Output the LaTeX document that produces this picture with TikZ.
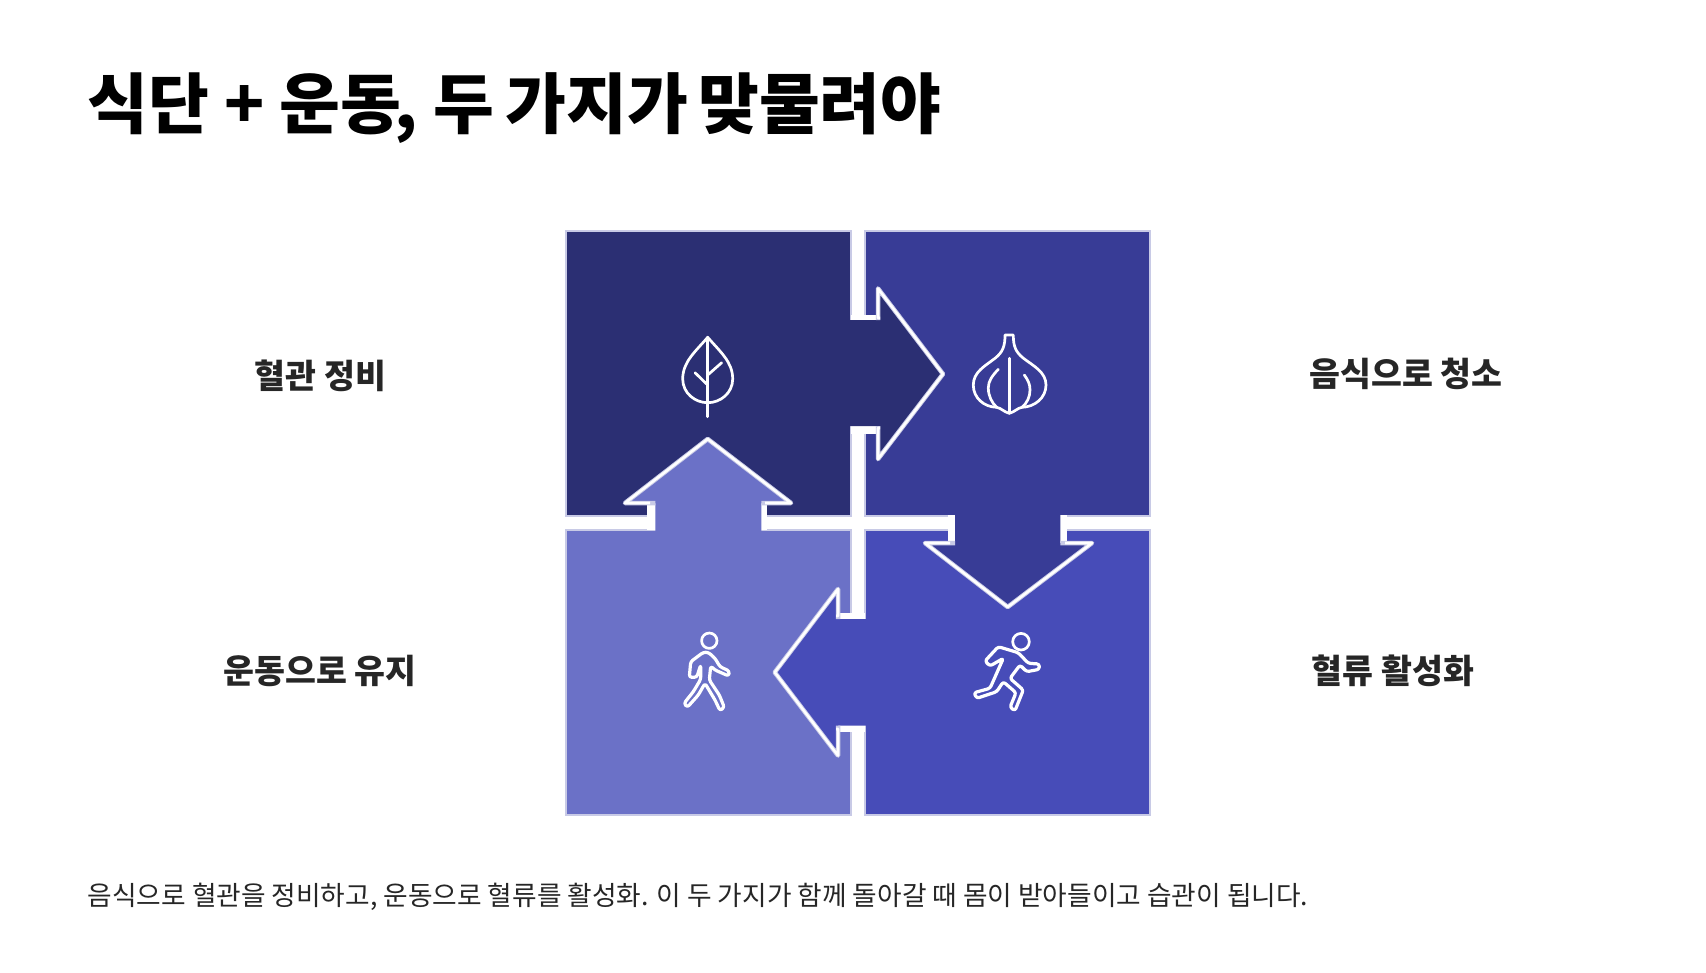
\documentclass[tikz,border=0pt]{standalone}
\usepackage{fontspec}
\newfontfamily\cjk{Noto Sans CJK KR}
\usetikzlibrary{positioning}
\definecolor{tileTL}{RGB}{43,47,115}
\definecolor{tileTR}{RGB}{56,60,150}
\definecolor{tileBR}{RGB}{71,76,184}
\definecolor{tileBL}{RGB}{107,113,199}
\definecolor{rim}{RGB}{200,202,230}
\definecolor{ink}{RGB}{38,38,38}
\tikzset{
  tile/.style={draw=rim, line width=0.015cm},
  rimline/.style={draw=rim, line width=0.045cm, line join=round},
  whiteline/.style={draw=white, line width=0.026cm, line join=round},
  icon/.style={draw=white, line width=0.027cm, line cap=round, line join=round},
  body/.style={icon, line width=0.032cm, rounded corners=0.025cm},
  heading/.style={anchor=west, inner sep=0pt, text=black, font=\cjk\bfseries\fontsize{18.8pt}{22pt}\selectfont},
  tag/.style={anchor=west, inner sep=0pt, text=ink, font=\cjk\bfseries\fontsize{9.55pt}{12pt}\selectfont},
  note/.style={anchor=west, inner sep=0pt, text=ink, font=\cjk\fontsize{7.6pt}{10pt}\selectfont},
}

\begin{document}
\begin{tikzpicture}[x=0.01cm, y=-0.01cm]
\useasboundingbox (0,0) rectangle (1706,972);
\fill[white] (0,0) rectangle (1706,972);

%% ─── Four tiles ─────────────────────────────────────────────
\foreach \cx/\cy/\col in {566/231/tileTL, 865/231/tileTR, 566/530/tileBL, 865/530/tileBR} {
  \fill[\col, tile] (\cx,\cy) rectangle (\cx+285,\cy+285);
}

%% ─── Arrows: white notch, stem and head, then the edge ──────
% right arrow
\fill[white] (851,315) rectangle (880,434);
\fill[tileTL] (849,320) -- (878,320) -- (878,288.5) -- (943,374) -- (878,459) -- (878,426) -- (849,426) -- cycle;
\draw[rimline] (878,320) -- (878,288.5) -- (943,374) -- (878,459) -- (878,426);
\draw[whiteline] (880,318) -- (878,318) -- (878,288.5) -- (943,374) -- (878,459) -- (878,428) -- (880,428);
% down arrow
\fill[white] (948,515) rectangle (1067,545);
\fill[tileTR] (955,513) -- (955,543) -- (925,543) -- (1007.7,607) -- (1092,543) -- (1060.3,543) -- (1060.3,513) -- cycle;
\draw[rimline] (955,543) -- (925,543) -- (1007.7,607) -- (1092,543) -- (1060.3,543);
\draw[whiteline] (950,543) -- (925,543) -- (1007.7,607) -- (1092,543) -- (1065,543);
% left arrow
\fill[white] (836,613.3) rectangle (865,731.7);
\fill[tileBR] (867,619) -- (838,619) -- (838,589) -- (774.7,672.3) -- (838,755.5) -- (838,725.7) -- (867,725.7) -- cycle;
\draw[rimline] (838,619) -- (838,589) -- (774.7,672.3) -- (838,755.5) -- (838,725.7);
\draw[whiteline] (836,616) -- (838,616) -- (838,589) -- (774.7,672.3) -- (838,755.5) -- (838,729) -- (836,729);
% up arrow
\fill[white] (647.3,501) rectangle (766.7,530);
\fill[tileBL] (655.3,532) -- (655.3,503) -- (625,503) -- (707.7,439) -- (791,503) -- (761.3,503) -- (761.3,532) -- cycle;
\draw[rimline] (655.3,503) -- (625,503) -- (707.7,439) -- (791,503) -- (761.3,503);
\draw[whiteline] (650,503) -- (625,503) -- (707.7,439) -- (791,503) -- (765,503);

%% ─── Leaf icon ──────────────────────────────────────────────
\draw[icon] (707.7,337.3) .. controls (695,352) and (682.7,362) .. (682.7,379)
  .. controls (682.7,393) and (695,402.7) .. (707.7,402.7)
  .. controls (720.4,402.7) and (732.7,393) .. (732.7,379)
  .. controls (732.7,362) and (720.4,352) .. cycle;
\draw[icon] (707.7,337.3) -- (707.7,416.7);
\draw[icon] (707.7,375) -- (721.7,362.7);
\draw[icon] (707.7,385) -- (695,372.7);

%% ─── Garlic icon ────────────────────────────────────────────
\draw[icon] (1009.3,413.3) .. controls (1004,412) and (1001,408) .. (996.7,407.3)
  .. controls (984,407) and (973.3,398) .. (973.3,385)
  .. controls (973.3,372) and (985,366) .. (995,358.3)
  .. controls (1003,352) and (1005,346) .. (1005,335)
  -- (1013.3,335)
  .. controls (1013.3,346) and (1015.5,352) .. (1023.5,358.3)
  .. controls (1033.5,366) and (1046,372) .. (1046,385)
  .. controls (1046,398) and (1034.5,407) .. (1022,407.3)
  .. controls (1017.5,408) and (1014.5,412) .. cycle;
\draw[icon] (1009.3,358.3) -- (1009.3,413.3);
\draw[icon] (998.3,369.3) .. controls (992,376) and (988.3,381) .. (988.3,388)
  .. controls (988.3,396) and (992,403) .. (996.7,407.3);
\draw[icon] (1024.3,375) .. controls (1028,380) and (1030,384) .. (1030,390)
  .. controls (1030,397) and (1027,403) .. (1022,407.3);

%% ─── Walker icon ────────────────────────────────────────────
\draw[icon] (709.3,640.7) circle[radius=7.7];
\draw[body] (708.3,652.3) -- (715,658.3) -- (720,666.7) -- (729.3,671) -- (728.7,676)
  -- (715,670) -- (710.7,666) -- (709.3,680) -- (719.3,695) -- (724.3,707.3)
  -- (720,710.7) -- (715,700) -- (705,683.3) -- (698.3,695) -- (687.3,707.3)
  -- (684,703.3) -- (693.3,691.7) -- (700.7,679.3) -- (700.7,665) -- (696.7,677.3)
  -- (689.3,677.3) -- (690.7,661.7) -- (703.3,652.3) -- cycle;

%% ─── Runner icon ────────────────────────────────────────────
\draw[icon] (1021,641.7) circle[radius=8.3];
\draw[body] (998.3,646.7) -- (1018.3,652.7) -- (1028.3,663.3) -- (1039.3,664) -- (1039.3,669.3)
  -- (1026.7,671.7) -- (1020,665) -- (1010,678.3) -- (1023.3,690) -- (1015,710.7)
  -- (1010,707.3) -- (1016,692.7) -- (1003.3,681.7) -- (996.7,691.7) -- (976.7,698.3)
  -- (974,692.7) -- (990,688.3) -- (1003.3,658.3) -- (990,666) -- (985,661) -- cycle;

%% ─── Texts ──────────────────────────────────────────────────
\node[heading] (title) at (87,108.5) {식단 + 운동\kern-0.1em, 두\kern-0.05em{} 가지가\kern-0.08em{} 맞물려야};
\node[tag] (tagTL) at (254,376) {혈관 정비};
\node[tag] (tagTR) at (1309,374) {음식으로 청소};
\node[tag] (tagBL) at (223,671) {운동으로 유지};
\node[tag] (tagBR) at (1311,671) {혈류 활성화};
\node[note] (footer) at (87,897) {음식으로 혈관을 정비하고, 운동으로 혈류를 활성화. 이 두 가지가 함께 돌아갈 때 몸이 받아들이고 습관이 됩니다.};

\end{tikzpicture}
\end{document}
